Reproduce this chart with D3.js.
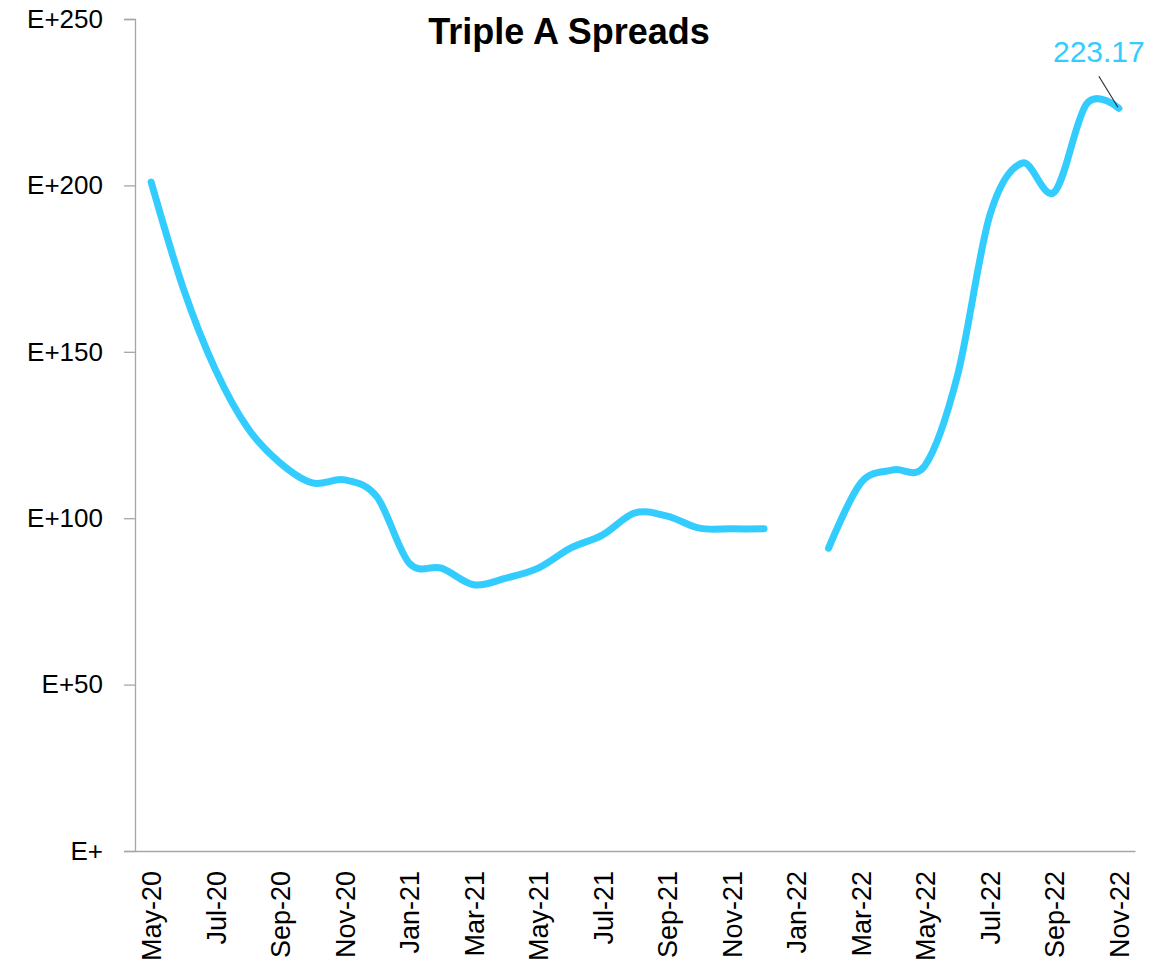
<!DOCTYPE html>
<html>
<head>
<meta charset="utf-8">
<script src="https://cdn.jsdelivr.net/npm/d3@7"></script>
<style>
  body { margin: 0; background: #fff; }
  text { font-family: "Liberation Sans", Arial, sans-serif; }
</style>
</head>
<body>
<div id="chart"></div>
<script>
// months on the x axis (one point per month)
const months = [
  "May-20", "Jun-20", "Jul-20", "Aug-20", "Sep-20", "Oct-20", "Nov-20", "Dec-20",
  "Jan-21", "Feb-21", "Mar-21", "Apr-21", "May-21", "Jun-21", "Jul-21", "Aug-21",
  "Sep-21", "Oct-21", "Nov-21", "Dec-21", "Jan-22", "Feb-22", "Mar-22", "Apr-22",
  "May-22", "Jun-22", "Jul-22", "Aug-22", "Sep-22", "Oct-22", "Nov-22"
];
// spread values, null = no data (gap in the line)
const spreads = [
  201, 169, 144.5, 127, 116.6, 110.6, 111.5, 106.4,
  86.5, 85, 80, 82, 85, 91, 95, 101.6,
  100.6, 97, 96.8, 96.8, null, 91, 110.6, 114.5,
  116, 143, 191, 206.7, 198, 224.5, 223.17
];
const yTicks = [0, 50, 100, 150, 200, 250];
const yTickLabels = ["E+", "E+50", "E+100", "E+150", "E+200", "E+250"];
const lastLabel = "223.17";

const width = 1173, height = 975;
const lineColor = "#33ccff";
const axisColor = "#a6a6a6";

const data = months.map((m, i) => ({ month: m, value: spreads[i] }));

const svg = d3.select("#chart").append("svg")
  .attr("width", width)
  .attr("height", height);

const x = d3.scalePoint()
  .domain(months)
  .range([135, 1135])
  .padding(0.5);

const y = d3.scaleLinear()
  .domain([0, 250])
  .range([851, 19]);

// y axis
const yAxis = svg.append("g")
  .attr("transform", "translate(135,0)")
  .call(d3.axisLeft(y)
    .tickValues(yTicks)
    .tickSize(11)
    .tickPadding(21)
    .tickFormat((d, i) => yTickLabels[i]));
yAxis.select(".domain").attr("stroke", axisColor).attr("stroke-width", 1.3);
yAxis.selectAll(".tick line").attr("stroke", axisColor).attr("stroke-width", 1.3);
yAxis.selectAll(".tick text")
  .attr("fill", "#000")
  .style("font-size", "26px");

// x axis
const xAxis = svg.append("g")
  .attr("transform", "translate(0,851)")
  .call(d3.axisBottom(x)
    .tickValues(months.filter((m, i) => i % 2 === 0))
    .tickSize(0)
    .tickSizeOuter(0));
xAxis.select(".domain").attr("stroke", axisColor).attr("stroke-width", 1.3);
xAxis.selectAll(".tick text")
  .attr("fill", "#000")
  .style("font-size", "27px")
  .attr("text-anchor", "end")
  .attr("transform", "rotate(-90)")
  .attr("x", -20)
  .attr("y", 0)
  .attr("dy", "0.35em");

// title
svg.append("text")
  .attr("x", 569)
  .attr("y", 44)
  .attr("text-anchor", "middle")
  .style("font-size", "36px")
  .style("font-weight", "bold")
  .text("Triple A Spreads");

// the spread line (smoothed like the original)
const line = d3.line()
  .defined(d => d.value !== null)
  .x(d => x(d.month))
  .y(d => y(d.value))
  .curve(d3.curveCatmullRom.alpha(0));

svg.append("path")
  .datum(data)
  .attr("fill", "none")
  .attr("stroke", lineColor)
  .attr("stroke-width", 7)
  .attr("stroke-linecap", "round")
  .attr("stroke-linejoin", "round")
  .attr("d", line);

// label for the last point, with leader line
const last = data[data.length - 1];
const lx = x(last.month), ly = y(last.value);
svg.append("line")
  .attr("x1", lx - 20)
  .attr("y1", ly - 32)
  .attr("x2", lx - 1)
  .attr("y2", ly - 1)
  .attr("stroke", "#333")
  .attr("stroke-width", 1.2);

svg.append("text")
  .attr("x", lx - 20)
  .attr("y", ly - 46)
  .attr("text-anchor", "middle")
  .attr("fill", lineColor)
  .style("font-size", "30px")
  .text(lastLabel);
</script>
</body>
</html>
